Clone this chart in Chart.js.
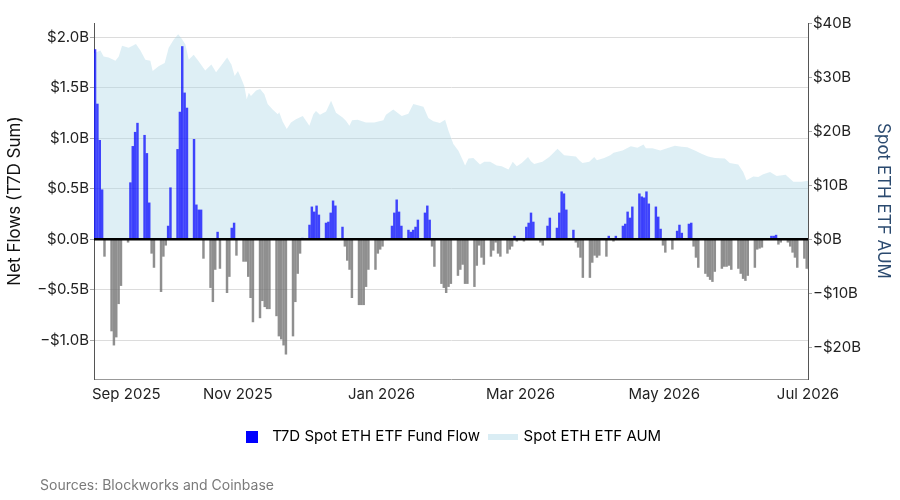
<!DOCTYPE html>
<html>
<head>
<meta charset="utf-8">
<script src="https://cdn.jsdelivr.net/npm/chart.js@4.4.1/dist/chart.umd.min.js"></script>
<style>
  html, body { margin: 0; padding: 0; background: #fff; }
  #wrap { position: relative; width: 900px; height: 500px; }
  #source { position: absolute; left: 40px; top: 476px; font: 14px Inter, sans-serif; color: #7a7a7a; }
</style>
</head>
<body>
<div id="wrap">
  <canvas id="chart" width="900" height="500"></canvas>
  <div id="source">Sources: Blockworks and Coinbase</div>
</div>
<script>
// T7D net flows in $B, one entry per calendar day (null = no bar), Sep 1 2025 .. Jul 1 2026
const flowsSep = [1.88, 1.34, 0.98, 0.49, -0.17, null, null,
  -0.91, -1.05, -0.97, -0.64, -0.46, null, null,
  -0.03, 0.56, 0.92, 1.06, 1.15, null, null,
  1.03, 0.85, 0.36, -0.14, -0.28, null, null,
  -0.52, -0.17];
const flowsOct = [-0.06, 0.13, 0.51, null, null,
  0.89, 1.26, 1.91, 1.45, 1.30, null, null,
  0.99, 0.34, 0.29, 0.29, -0.19, null, null,
  -0.48, -0.62, -0.30, 0.07, -0.29, null, null,
  -0.53, -0.37, 0.11, 0.16, -0.16];
const flowsNov = [null, null,
  -0.22, -0.22, -0.37, -0.58, -0.82, null, null,
  -0.78, -0.61, -0.67, -0.69, -0.69, null, null,
  -0.76, -0.96, -0.99, -1.05, -1.14, null, null,
  -0.96, -0.62, -0.34, -0.14, 0.01, null, null];
const flowsDec = [0.14, 0.32, 0.27, 0.33, 0.24, null, null,
  0.16, 0.17, 0.26, 0.38, 0.33, null, null,
  0.12, -0.07, -0.21, -0.30, -0.58, null, null,
  -0.65, -0.65, -0.65, -0.47, -0.30, null, null,
  -0.30, -0.14, -0.10];
const flowsJan = [-0.07, null, null, null,
  0.13, 0.26, 0.39, 0.27, 0.13, null, null,
  0.09, 0.07, 0.09, 0.12, 0.19, null, null,
  0.26, 0.33, 0.19, -0.07, -0.27, null, null,
  -0.44, -0.48, -0.53, -0.47, -0.44, null];
const flowsFeb = [null,
  -0.36, -0.30, -0.25, -0.44, -0.44, null, null,
  -0.47, -0.26, -0.06, -0.18, -0.25, null, null,
  -0.17, -0.11, -0.03, -0.14, -0.17, null, null,
  -0.14, -0.10, -0.07, 0.03, -0.02, null];
const flowsMar = [null,
  -0.02, 0.12, 0.16, 0.26, 0.17, null, null,
  -0.03, -0.06, null, 0.13, 0.21, null, null,
  0.11, 0.26, 0.47, 0.45, 0.29, null, null,
  0.09, -0.03, -0.08, -0.18, -0.38, null, null,
  -0.38, -0.23];
const flowsApr = [-0.16, -0.18, -0.16, null, null,
  -0.17, 0.03, null, -0.02, 0.03, null, null,
  0.13, 0.15, 0.27, 0.21, 0.32, null, null,
  0.45, 0.42, 0.41, 0.47, 0.35, null, null,
  0.32, 0.22, 0.10, -0.06];
const flowsMay = [-0.13, null, null,
  -0.10, null, 0.08, 0.14, 0.06, null, null,
  0.15, 0.16, -0.07, -0.18, -0.28, null, null,
  -0.34, -0.37, -0.40, -0.42, -0.32, null, null,
  -0.29, -0.27, -0.27, -0.26, -0.30, null, null];
const flowsJun = [-0.29, -0.34, -0.39, -0.41, -0.36, null, null,
  -0.28, -0.10, -0.09, -0.08, null, null, null,
  0.03, 0.03, 0.04, -0.05, -0.03, null, null,
  -0.03, -0.07, -0.13, -0.18, -0.28, null, null,
  -0.19, -0.29];
const flowsJul = [-0.30];

// Spot ETH ETF AUM in $B, sampled at day offsets from Sep 1 2025
const aumDays = [0, 2.7, 4.1, 6.2, 9.1, 10.5, 11.9, 14.7, 17.8, 19.7, 21.8, 23.9, 24.9, 27.4, 30, 31.7,
  33.8, 35.7, 37.1, 38.8, 40.2, 42.3, 44.4, 47.2, 49.8, 51.8, 54.3, 56.5, 58.3, 59.7, 61.1, 62.4,
  63.8, 64.8, 65.7, 66.6, 68.8, 70.5, 72.3, 73.7, 75.8, 78, 78.6, 80.1, 81.8, 83.6, 85.7, 88.6,
  91.4, 93.1, 94.2, 95.9, 98.5, 100.6, 102.7, 105.5, 106.9, 108.4, 109.5, 111.9, 115.4, 118.9,
  122.8, 123.9, 127, 130.6, 133.4, 135.5, 139.8, 141.9, 144, 146.8, 149, 150.4, 152.5, 154.7,
  156.5, 157.5, 158.9, 161, 163.8, 165.6, 168.1, 170.9, 173, 175.9, 177.7, 179.4, 181.5, 184.2,
  185.4, 186.8, 190.3, 193.2, 196.7, 199.5, 204.5, 205.9, 207.3, 210.2, 212.3, 213.4, 216.5,
  219.1, 220.5, 224.3, 227.8, 230.6, 233.2, 234.2, 237, 240.3, 244.5, 246.5, 249.3, 251.8, 255,
  257.8, 260.6, 263.5, 267.7, 269.8, 273.4, 275.5, 276.9, 279.8, 281.9, 284, 286.9, 289.7,
  293.5, 296.8, 300.3, 303];
const aumValues = [34.4, 34.9, 33.8, 33.6, 33.0, 33.8, 35.8, 35.4, 36.1, 34.9, 33.2, 33.0, 31.1, 32.0, 32.6, 35.4,
  36.9, 37.9, 37.2, 36.0, 33.2, 34.1, 32.9, 31.2, 32.3, 30.9, 32.3, 33.6, 32.3, 30.2, 31.1, 29.8,
  28.3, 25.9, 27.1, 26.5, 27.5, 27.8, 26.8, 25.0, 24.0, 23.1, 23.5, 21.7, 20.4, 21.6, 22.2, 22.8,
  21.0, 23.1, 23.7, 23.0, 23.6, 25.6, 23.4, 22.5, 21.9, 21.0, 22.0, 22.1, 21.6, 21.6,
  22.0, 23.0, 24.0, 22.8, 23.2, 25.0, 24.5, 22.4, 21.8, 21.5, 22.1, 20.1, 17.6, 16.3,
  14.6, 13.6, 14.9, 15.0, 13.8, 14.3, 14.3, 13.6, 13.5, 12.9, 14.3, 13.5, 14.1, 15.2,
  14.4, 13.9, 14.3, 15.2, 16.7, 15.5, 15.3, 14.6, 14.1, 14.3, 15.2, 14.6, 15.0,
  15.5, 16.0, 16.4, 17.2, 16.9, 17.5, 16.8, 16.8, 16.4, 17.0, 17.3, 17.1, 17.0, 16.4,
  15.8, 15.3, 15.0, 14.9, 14.1, 13.8, 12.4, 10.9, 11.6, 11.5, 12.0, 12.4, 11.7,
  11.9, 10.6, 10.6, 10.8];

const monthTicks = [0, 61, 122, 181, 242, 303];
const monthLabels = ['Sep 2025', 'Nov 2025', 'Jan 2026', 'Mar 2026', 'May 2026', 'Jul 2026'];
const flowTicks = [-1.0, -0.5, 0, 0.5, 1.0, 1.5, 2.0];
const aumTicks = [-20, -10, 0, 10, 20, 30, 40];

const flows = [].concat(flowsSep, flowsOct, flowsNov, flowsDec, flowsJan, flowsFeb,
  flowsMar, flowsApr, flowsMay, flowsJun, flowsJul);
const flowPoints = [];
flows.forEach((v, i) => {
  if (v !== null) flowPoints.push({x: i + 0.45, y: v});
});
const aumPoints = aumDays.map((d, i) => ({x: d, y: aumValues[i]}));

const FONT = 'Inter, "Noto Sans", sans-serif';
Chart.defaults.font.family = FONT;
Chart.defaults.color = '#222';

function money(v, digits) {
  const s = '$' + Math.abs(v).toFixed(digits) + 'B';
  return v < 0 ? '\u2212' + s : s;
}

// legend swatches
const blueBox = document.createElement('canvas');
blueBox.width = 12; blueBox.height = 12;
blueBox.getContext('2d').fillStyle = '#0000ff';
blueBox.getContext('2d').fillRect(0, 0, 12, 12);
const aumBox = document.createElement('canvas');
aumBox.width = 30; aumBox.height = 6;
aumBox.getContext('2d').fillStyle = 'rgba(173,216,230,0.45)';
aumBox.getContext('2d').fillRect(0, 0, 30, 6);

const zeroLine = {
  id: 'zeroLine',
  afterDatasetsDraw(chart) {
    const {ctx, chartArea, scales} = chart;
    const y = scales.y.getPixelForValue(0);
    ctx.save();
    ctx.strokeStyle = '#000';
    ctx.lineWidth = 2.5;
    ctx.beginPath();
    ctx.moveTo(chartArea.left, y);
    ctx.lineTo(chartArea.right, y);
    ctx.stroke();
    ctx.restore();
  }
};

const monthLabelsPlugin = {
  id: 'monthLabels',
  afterDraw(chart) {
    const {ctx, chartArea, scales} = chart;
    ctx.save();
    ctx.font = '15px ' + FONT;
    ctx.fillStyle = '#222';
    ctx.textBaseline = 'middle';
    monthTicks.forEach((d, i) => {
      const x = scales.x.getPixelForValue(d);
      ctx.textAlign = i === 0 ? 'left' : 'center';
      ctx.fillText(monthLabels[i], i === 0 ? x - 2 : x, chartArea.bottom + 15);
    });
    ctx.restore();
  }
};

new Chart(document.getElementById('chart'), {
  type: 'bar',
  data: {
    datasets: [{
      label: 'T7D Spot ETH ETF Fund Flow',
      data: flowPoints,
      yAxisID: 'y',
      order: 1,
      barThickness: 1.8,
      backgroundColor: ctx => (ctx.raw && ctx.raw.y >= 0) ? 'rgba(0,0,255,0.72)' : 'rgba(115,115,115,0.8)'
    }, {
      type: 'line',
      label: 'Spot ETH ETF AUM',
      data: aumPoints,
      yAxisID: 'y1',
      order: 2,
      fill: 'origin',
      backgroundColor: 'rgba(173,216,230,0.4)',
      borderWidth: 0,
      pointRadius: 0,
      tension: 0
    }]
  },
  options: {
    responsive: false,
    animation: false,
    layout: {padding: {left: 4, right: 4, top: 23, bottom: 46}},
    plugins: {
      tooltip: {enabled: false},
      legend: {
        position: 'bottom',
        labels: {
          usePointStyle: true,
          pointStyleWidth: 26,
          boxHeight: 14,
          padding: 10,
          color: '#111',
          font: {size: 15},
          generateLabels: () => [
            {text: 'T7D Spot ETH ETF Fund Flow', pointStyle: blueBox, lineWidth: 0, hidden: false, datasetIndex: 0},
            {text: 'Spot ETH ETF AUM', pointStyle: aumBox, lineWidth: 0, hidden: false, datasetIndex: 1}
          ]
        }
      }
    },
    scales: {
      x: {
        type: 'linear',
        min: 0,
        max: 303,
        offset: false,
        grid: {display: false, offset: false},
        border: {display: true, color: '#999'},
        ticks: {display: false},
        afterFit: s => { s.height = 40; }
      },
      y: {
        position: 'left',
        min: -1.386,
        max: 2.143,
        afterBuildTicks: s => { s.ticks = flowTicks.map(v => ({value: v})); },
        ticks: {padding: 1, font: {size: 15}, color: '#222', callback: v => money(v, 1)},
        grid: {color: '#dcdcdc', tickLength: 4, tickColor: '#aaa'},
        border: {color: '#555'},
        title: {display: true, text: 'Net Flows (T7D Sum)', color: '#111', font: {size: 17}, padding: {top: 1, bottom: 0}},
        afterFit: s => { s.width = 90; }
      },
      y1: {
        position: 'right',
        min: -25.9,
        max: 40,
        afterBuildTicks: s => { s.ticks = aumTicks.map(v => ({value: v})); },
        ticks: {padding: 1, font: {size: 15}, color: '#222', callback: v => money(v, 0)},
        grid: {drawOnChartArea: false, tickLength: 4, tickColor: '#aaa'},
        border: {color: '#555'},
        title: {display: true, text: 'Spot ETH ETF AUM', color: '#2b4a6f', font: {size: 17}, padding: {top: 3, bottom: 0}},
        afterFit: s => { s.width = 88; }
      }
    }
  },
  plugins: [zeroLine, monthLabelsPlugin]
});
</script>
</body>
</html>
